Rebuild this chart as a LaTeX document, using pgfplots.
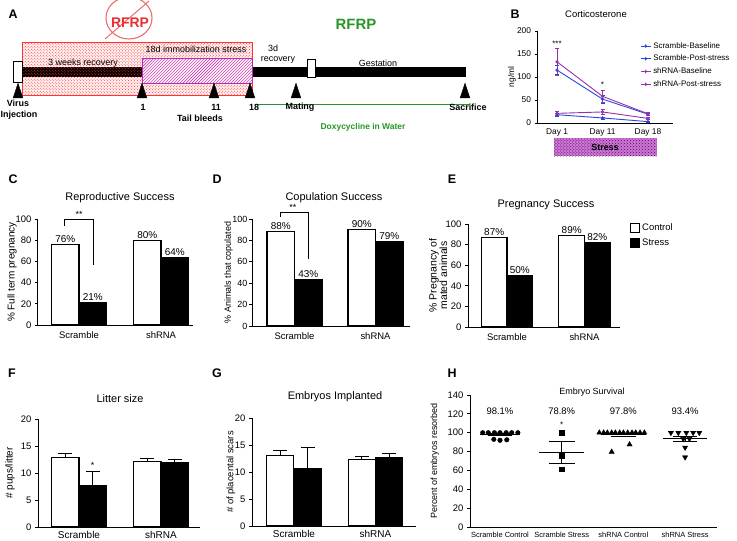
\documentclass[border=0pt]{standalone}
\usepackage{fontspec}
\setmainfont{Liberation Sans}
\usepackage{pgfplots}
\pgfplotsset{compat=1.18}
\usetikzlibrary{patterns}

\definecolor{gpblue}{RGB}{40,70,225}
\definecolor{gppurple}{RGB}{150,50,165}
\definecolor{rfrpred}{RGB}{235,45,45}
\definecolor{circred}{RGB}{235,110,110}
\definecolor{rfrpgreen}{RGB}{40,150,40}
\definecolor{stressfill}{RGB}{205,120,215}
\definecolor{hatchpurple}{RGB}{185,40,185}

\newcommand{\fs}[1]{\fontsize{#1}{#1}\selectfont}

\pgfplotsset{
  gp/.style={scale only axis, axis lines=left, axis line style={-, line width=1bp},
    tick align=outside, major tick length=3bp, tick style={black, line width=0.8bp},
    xtick style={draw=none}, /pgf/number format/assume math mode=true,
    tick label style={font=\fs{9.5}}, label style={font=\fs{10}}, clip=false, ymin=0},
  ctl/.style={ybar, bar shift=0pt, fill=white, draw=black, line width=1.1bp},
  str/.style={ybar, bar shift=0pt, fill=black, draw=black, line width=1.1bp},
  pct/.style={nodes near coords={\pgfmathprintnumber[fixed,precision=0]{\pgfplotspointmeta}\%},
    nodes near coords style={font=\fs{10}, inner sep=1.5bp, black}},
  ebar/.style={error bars/.cd, y dir=plus, y explicit,
    error bar style={line width=1bp, black}, error mark options={rotate=90, mark size=7bp, line width=1bp, black}},
  legbox/.style={legend image code/.code={\draw[##1, line width=1bp] (0bp,-4.5bp) rectangle (9bp,4.5bp);}},
}

\begin{document}
\begin{tikzpicture}
\path[use as bounding box] (0,0) rectangle (737bp,-541bp);

% ---------------- canvas (panel A, titles, letters) ----------------
\begin{axis}[at={(0,0)}, anchor=north west, scale only axis, width=737bp, height=541bp,
  xmin=0, xmax=737, ymin=0, ymax=541, y dir=reverse, hide axis, clip=false]
\fill[red!5] (22,42) rectangle (252,95);
\fill[black] (22,67) rectangle (466,77);
\fill[pattern=crosshatch dots, pattern color=red!80] (22,42) rectangle (252,95);
\draw[red!80, line width=0.8bp] (22,42) rectangle (252,95);
\fill[red!5] (142,58) rectangle (252,83);
\fill[pattern=north east lines, pattern color=hatchpurple] (142,58) rectangle (252,83);
\draw[hatchpurple, line width=0.8bp] (142,58) rectangle (252,83);
\draw[black, fill=white, line width=0.8bp] (13,61) rectangle (22,82);
\draw[black, fill=white, line width=0.8bp] (307,59) rectangle (315,77);
\draw[rfrpgreen, line width=0.8bp] (255,104) -- (470,104);
\addplot[only marks, mark=triangle*, mark size=7bp, mark options={yscale=1.4, xscale=0.8, fill=black, draw=black}]
  coordinates {(18,93) (142,93) (214,93) (250,93) (296,93) (465,93)};
\draw[circred, line width=1.1bp] (129,18) ellipse [x radius=23bp, y radius=21bp];
\draw[circred, line width=1bp] (105,39) -- (149,1);
\node[font=\fs{14}\bfseries, text=rfrpred] at (130,23) {RFRP};
\node[font=\fs{15}\bfseries, text=rfrpgreen] at (356,24) {RFRP};
\node[font=\fs{9}] at (83,63) {3 weeks recovery};
\node[font=\fs{9}] at (196,49) {18d immobilization stress};
\node[font=\fs{9}] at (273,48) {3d};
\node[font=\fs{9}] at (278,60) {recovery};
\node[font=\fs{9}] at (378,63) {Gestation};
\node[font=\fs{9}\bfseries] at (18,103) {Virus};
\node[font=\fs{9}\bfseries] at (19,115) {Injection};
\node[font=\fs{9}\bfseries] at (143,107) {1};
\node[font=\fs{9}\bfseries] at (216,107) {11};
\node[font=\fs{9}\bfseries] at (254,107) {18};
\node[font=\fs{9}\bfseries] at (200,118) {Tail bleeds};
\node[font=\fs{9}\bfseries] at (300,107) {Mating};
\node[font=\fs{9}\bfseries] at (468,107) {Sacrifice};
\node[font=\fs{8.5}\bfseries, text=rfrpgreen] at (363,127) {Doxycycline in Water};
\fill[stressfill] (554,138) rectangle (657,156);
\fill[pattern=crosshatch dots, pattern color=violet!70!black] (554,138) rectangle (657,156);
\node[font=\fs{9}\bfseries] at (605,147) {Stress};
\node[font=\fs{12.5}\bfseries] at (13,14) {A};
\node[font=\fs{12.5}\bfseries] at (515,14) {B};
\node[font=\fs{12.5}\bfseries] at (13,179) {C};
\node[font=\fs{12.5}\bfseries] at (217,179) {D};
\node[font=\fs{12.5}\bfseries] at (452,179) {E};
\node[font=\fs{12.5}\bfseries] at (12,373) {F};
\node[font=\fs{12.5}\bfseries] at (217,373) {G};
\node[font=\fs{12.5}\bfseries] at (452,373) {H};
\node[font=\fs{9.5}] at (596,14) {Corticosterone};
\node[font=\fs{11}] at (120,198) {Reproductive Success};
\node[font=\fs{11}] at (334,198) {Copulation Success};
\node[font=\fs{11}] at (546,205) {Pregnancy Success};
\node[font=\fs{11}] at (120,399) {Litter size};
\node[font=\fs{11}] at (335,397) {Embryos Implanted};
\node[font=\fs{9}] at (592,392) {Embryo Survival};
\end{axis}

% ---------------- B: Corticosterone ----------------
\begin{axis}[gp, at={(537bp,-123bp)}, anchor=south west, width=136bp, height=92bp,
  xmin=-0.44, xmax=2.55, ymin=0, ymax=200, ytick={0,50,100,150,200},
  xtick={0,1,2}, xticklabels={Day 1,Day 11,Day 18},
  tick label style={font=\fs{8.4}}, major tick length=2.5bp,
  ylabel={ng/ml}, ylabel style={font=\fs{8.4}, at={(axis description cs:-0.184,0.5)}, anchor=center},
  legend style={at={(0.757,0.90)}, anchor=north west, draw=none, fill=none, font=\fs{8}, row sep=1.5bp, inner sep=0pt},
  legend cell align=left, legend image post style={xscale=0.6}]
\addplot[gpblue, line width=0.9bp, mark=*, mark size=1.1bp, error bars/.cd, y dir=both, y explicit,
  error bar style={line width=0.7bp}, error mark options={rotate=90, mark size=2bp, line width=0.7bp}]
  coordinates {(0,18) +- (0,4) (1,11) +- (0,2) (2,3) +- (0,1)};
\addlegendentry{Scramble-Baseline}
\addplot[gpblue, line width=0.9bp, mark=*, mark size=1.1bp, error bars/.cd, y dir=both, y explicit,
  error bar style={line width=0.7bp}, error mark options={rotate=90, mark size=2bp, line width=0.7bp}]
  coordinates {(0,115) +- (0,10) (1,52) +- (0,9) (2,19) +- (0,3)};
\addlegendentry{Scramble-Post-stress}
\addplot[gppurple, line width=0.9bp, mark=*, mark size=1.1bp, error bars/.cd, y dir=both, y explicit,
  error bar style={line width=0.7bp}, error mark options={rotate=90, mark size=2bp, line width=0.7bp}]
  coordinates {(0,21) +- (0,5) (1,24) +- (0,6) (2,10) +- (0,2)};
\addlegendentry{shRNA-Baseline}
\addplot[gppurple, line width=0.9bp, mark=*, mark size=1.1bp, error bars/.cd, y dir=both, y explicit,
  error bar style={line width=0.7bp}, error mark options={rotate=90, mark size=2bp, line width=0.7bp}]
  coordinates {(0,133) +- (0,30) (1,58) +- (0,14) (2,20) +- (0,3)};
\addlegendentry{shRNA-Post-stress}
\node[font=\fs{8}] at (0,172) {***};
\node[font=\fs{8}] at (1,83) {*};
\end{axis}

% ---------------- C: Reproductive success ----------------
\begin{axis}[gp, pct, at={(38bp,-325bp)}, anchor=south west, width=155bp, height=106bp,
  xmin=-0.5, xmax=1.39, ymax=100, ytick={0,20,40,60,80,100},
  xtick={0,1}, xticklabels={Scramble,shRNA},
  ylabel={\% Full term pregnancy}, ylabel style={at={(axis description cs:-0.168,0.5)}, anchor=center}]
\addplot[ctl, bar width=0.335] coordinates {(-0.1675,76) (0.8325,80)};
\addplot[str, bar width=0.335] coordinates {(0.1675,21) (1.1675,64)};
\draw[line width=0.8bp] (-0.18,93.5) -- (-0.18,100) -- (0.18,100) -- (0.18,56.5);
\node[font=\fs{9}] at (0,104.5) {**};
\end{axis}

% ---------------- D: Copulation success ----------------
\begin{axis}[gp, pct, at={(252bp,-326bp)}, anchor=south west, width=158bp, height=107bp,
  xmin=-0.525, xmax=1.426, ymax=100, ytick={0,20,40,60,80,100},
  xtick={0,1}, xticklabels={Scramble,shRNA},
  yticklabel style={font=\fs{9}, inner sep=1.5bp},
  ylabel={\% Animals that copulated}, ylabel style={font=\fs{9}, at={(axis description cs:-0.148,0.5)}, anchor=center}]
\addplot[ctl, bar width=0.34] coordinates {(-0.17,88) (0.83,90)};
\addplot[str, bar width=0.34] coordinates {(0.17,43) (1.17,79)};
\draw[line width=0.8bp] (-0.17,102) -- (-0.17,106.5) -- (0.17,106.5) -- (0.17,63);
\node[font=\fs{9}] at (-0.02,110.5) {**};
\end{axis}

% ---------------- E: Pregnancy success ----------------
\begin{axis}[gp, pct, at={(468bp,-327bp)}, anchor=south west, width=152bp, height=103bp,
  xmin=-0.503, xmax=1.458, ymax=100, ytick={0,20,40,60,80,100},
  xtick={0,1}, xticklabels={Scramble,shRNA},
  ylabel={\% Pregnancy of\\mated animals}, ylabel style={font=\fs{10.5}, align=center, at={(axis description cs:-0.197,0.5)}, anchor=center},
  legend style={at={(axis description cs:1.066,1.02)}, anchor=north west, draw=none, fill=none, font=\fs{9.5}, row sep=2bp, inner sep=0pt},
  legend cell align=left]
\addplot[ctl, bar width=0.33, legbox] coordinates {(-0.165,87) (0.835,89)};
\addlegendentry{Control}
\addplot[str, bar width=0.33, legbox] coordinates {(0.165,50) (1.165,82)};
\addlegendentry{Stress}
\end{axis}

% ---------------- F: Litter size ----------------
\begin{axis}[gp, at={(38bp,-527bp)}, anchor=south west, width=162bp, height=108bp,
  xmin=-0.5, xmax=1.476, ymax=20, ytick={0,5,10,15,20},
  xtick={0,1}, xticklabels={Scramble,shRNA}, xticklabel style={font=\fs{10}, inner sep=0.8bp},
  ylabel={\# pups/litter}, ylabel style={at={(axis description cs:-0.173,0.5)}, anchor=center}]
\addplot[ctl, bar width=0.335, ebar] coordinates {(-0.1675,12.8) +- (0,0.9) (0.8325,12.1) +- (0,0.55)};
\addplot[str, bar width=0.335, ebar] coordinates {(0.1675,7.7) +- (0,2.5) (1.1675,11.85) +- (0,0.6)};
\node[font=\fs{9}] at (0.1675,11.4) {*};
\end{axis}

% ---------------- G: Embryos implanted ----------------
\begin{axis}[gp, at={(252bp,-526bp)}, anchor=south west, width=164bp, height=108bp,
  xmin=-0.515, xmax=1.497, ymax=20, ytick={0,5,10,15,20},
  xtick={0,1}, xticklabels={Scramble,shRNA}, xticklabel style={font=\fs{10}, inner sep=0.8bp},
  ylabel={\# of placental scars}, ylabel style={font=\fs{9.5}, at={(axis description cs:-0.128,0.5)}, anchor=center}]
\addplot[ctl, bar width=0.33, ebar] coordinates {(-0.167,13.0) +- (0,1.0) (0.833,12.3) +- (0,0.65)};
\addplot[str, bar width=0.33, ebar] coordinates {(0.167,10.7) +- (0,3.9) (1.167,12.75) +- (0,0.6)};
\end{axis}

% ---------------- H: Embryo survival ----------------
\begin{axis}[gp, at={(470bp,-527bp)}, anchor=south west, width=247bp, height=132bp,
  xmin=-0.486, xmax=3.517, ymax=140, ytick={0,20,40,60,80,100,120,140},
  xtick={0,1,2,3}, xticklabels={Scramble Control,Scramble Stress,shRNA Control,shRNA Stress},
  xticklabel style={font=\fs{7.5}, inner sep=1.5bp},
  ylabel={Percent of embryos resorbed}, ylabel style={font=\fs{9}, at={(axis description cs:-0.142,0.5)}, anchor=center}]
\addplot[only marks, mark=*, mark size=2.3bp, black]
  coordinates {(-0.28,100) (-0.19,100) (-0.09,100) (0,100) (0.1,100) (0.19,100) (0.29,100) (-0.1,93) (0,92) (0.11,92.5)};
\addplot[only marks, mark=square*, mark size=2.2bp, black]
  coordinates {(1,100) (1,75.5) (1,61.4)};
\addplot[only marks, mark=triangle*, mark size=3bp, black]
  coordinates {(1.61,100) (1.68,100) (1.74,100) (1.81,100) (1.87,100) (1.94,100) (2.0,100) (2.07,100) (2.14,100) (2.2,100) (2.27,100) (2.34,100) (1.81,79.7) (2.1,87.5)};
\addplot[only marks, mark=triangle*, mark size=3bp, mark options={rotate=180}, black]
  coordinates {(2.77,100) (2.89,100) (3.02,100) (3.13,100) (3.23,100) (2.97,93.5) (3.07,93.5) (3,84.3) (3,74)};
\addplot[black, line width=0.9bp] coordinates {(-0.33,98.1) (0.33,98.1)};
\addplot[black, line width=0.9bp] coordinates {(-0.2,97.0) (0.2,97.0)};
\addplot[black, line width=0.9bp] coordinates {(-0.2,99.2) (0.2,99.2)};
\addplot[black, line width=0.9bp] coordinates {(0.64,78.8) (1.36,78.8)};
\addplot[black, line width=0.9bp] coordinates {(0.79,90.3) (1.21,90.3)};
\addplot[black, line width=0.9bp] coordinates {(0.79,67.7) (1.21,67.7)};
\addplot[black, line width=0.9bp] coordinates {(1,67.7) (1,90.3)};
\addplot[black, line width=0.9bp] coordinates {(1.63,97.8) (2.37,97.8)};
\addplot[black, line width=0.9bp] coordinates {(1.8,96.5) (2.2,96.5)};
\addplot[black, line width=0.9bp] coordinates {(1.8,99.1) (2.2,99.1)};
\addplot[black, line width=0.9bp] coordinates {(2.64,93.4) (3.36,93.4)};
\addplot[black, line width=0.9bp] coordinates {(2.8,96.3) (3.2,96.3)};
\addplot[black, line width=0.9bp] coordinates {(2.8,90.5) (3.2,90.5)};
\addplot[black, line width=0.9bp] coordinates {(3,90.5) (3,96.3)};
\node[font=\fs{9.5}] at (0,123) {98.1\%};
\node[font=\fs{9.5}] at (1,123) {78.8\%};
\node[font=\fs{9.5}] at (2,123) {97.8\%};
\node[font=\fs{9.5}] at (3,123) {93.4\%};
\node[font=\fs{8}] at (1,108) {*};
\end{axis}
\end{tikzpicture}
\end{document}
